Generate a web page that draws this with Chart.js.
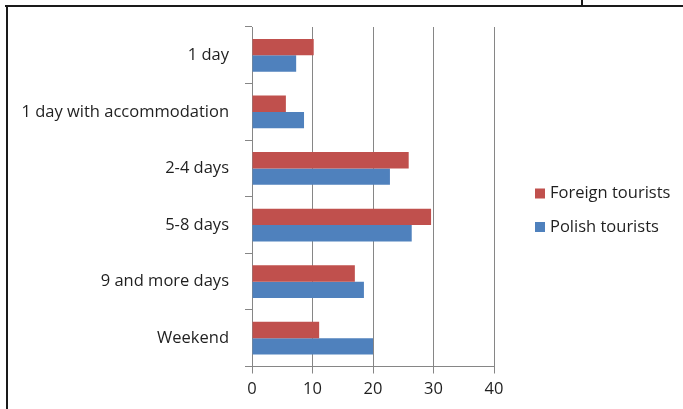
<!DOCTYPE html>
<html>
<head>
<meta charset="utf-8">
<script src="https://cdn.jsdelivr.net/npm/chart.js@4.4.1/dist/chart.umd.min.js"></script>
<style>
  html, body { margin: 0; padding: 0; background: #ffffff; }
  #wrap { position: relative; width: 683px; height: 409px; overflow: hidden; }
  #chart { position: absolute; left: 0; top: 0; }
  .frameTop { position: absolute; left: 5px; top: 5px; width: 678px; height: 2px; background: #1a1a1a; }
  .frameLeft { position: absolute; left: 6px; top: 5px; width: 2px; height: 404px; background: #1a1a1a; }
  .frameNotch { position: absolute; left: 581px; top: 0; width: 2px; height: 6px; background: #1a1a1a; }
</style>
</head>
<body>
<div id="wrap">
  <canvas id="chart" width="683" height="409"></canvas>
  <div class="frameTop"></div>
  <div class="frameLeft"></div>
  <div class="frameNotch"></div>
</div>
<script>
// Trip length categories (top to bottom)
const categories = ['1 day', '1 day with accommodation', '2-4 days', '5-8 days', '9 and more days', 'Weekend'];
// Share of trips, %
const foreignTourists = [10.2, 5.6, 25.9, 29.6, 17.0, 11.1];
const polishTourists = [7.3, 8.6, 22.8, 26.4, 18.5, 20.0];
const seriesNames = ['Foreign tourists', 'Polish tourists'];
const xTicks = [0, 10, 20, 30, 40];

const FONT = 'Open Sans';
const FONT_SIZE = 16.5;
const TEXT = '#1f1f1f';
const GRID = '#868686';

// Legend drawn to the right of the plot area
const sideLegend = {
  id: 'sideLegend',
  afterDraw(chart) {
    const ctx = chart.ctx;
    const area = chart.chartArea;
    const x0 = area.right + 41;
    const yc = [193.5, 227];
    ctx.save();
    ctx.font = FONT_SIZE + 'px "' + FONT + '"';
    ctx.textBaseline = 'middle';
    ctx.textAlign = 'left';
    chart.data.datasets.forEach((ds, i) => {
      ctx.fillStyle = ds.backgroundColor;
      ctx.fillRect(x0, yc[i] - 5, 10, 10);
      ctx.fillStyle = TEXT;
      ctx.fillText(ds.label, x0 + 15, yc[i]);
    });
    ctx.restore();
  }
};

new Chart(document.getElementById('chart'), {
  type: 'bar',
  data: {
    labels: categories,
    datasets: [
      { label: seriesNames[0], data: foreignTourists, backgroundColor: '#C0504D', borderWidth: 0 },
      { label: seriesNames[1], data: polishTourists, backgroundColor: '#4F81BD', borderWidth: 0 }
    ]
  },
  options: {
    indexAxis: 'y',
    responsive: false,
    animation: false,
    devicePixelRatio: 1,
    layout: { padding: { left: 0, right: 189, top: 27, bottom: 0 } },
    datasets: { bar: { categoryPercentage: 0.58, barPercentage: 1.0 } },
    plugins: { legend: { display: false }, tooltip: { enabled: false } },
    scales: {
      x: {
        min: 0, max: 40,
        afterBuildTicks(scale) { scale.ticks = xTicks.map(v => ({ value: v })); },
        afterFit(scale) { scale.height = 409 - 366.5; },
        grid: { color: GRID, lineWidth: 1, tickLength: 7, drawTicks: true },
        border: { color: GRID, width: 1 },
        ticks: { color: TEXT, font: { family: FONT, size: FONT_SIZE }, padding: 6 }
      },
      y: {
        afterFit(scale) { scale.width = 252; },
        grid: { offset: true, drawOnChartArea: false, color: GRID, tickLength: 7 },
        border: { color: GRID, width: 1 },
        ticks: { color: TEXT, font: { family: FONT, size: FONT_SIZE }, padding: 16 }
      }
    }
  },
  plugins: [sideLegend]
});
</script>
</body>
</html>
